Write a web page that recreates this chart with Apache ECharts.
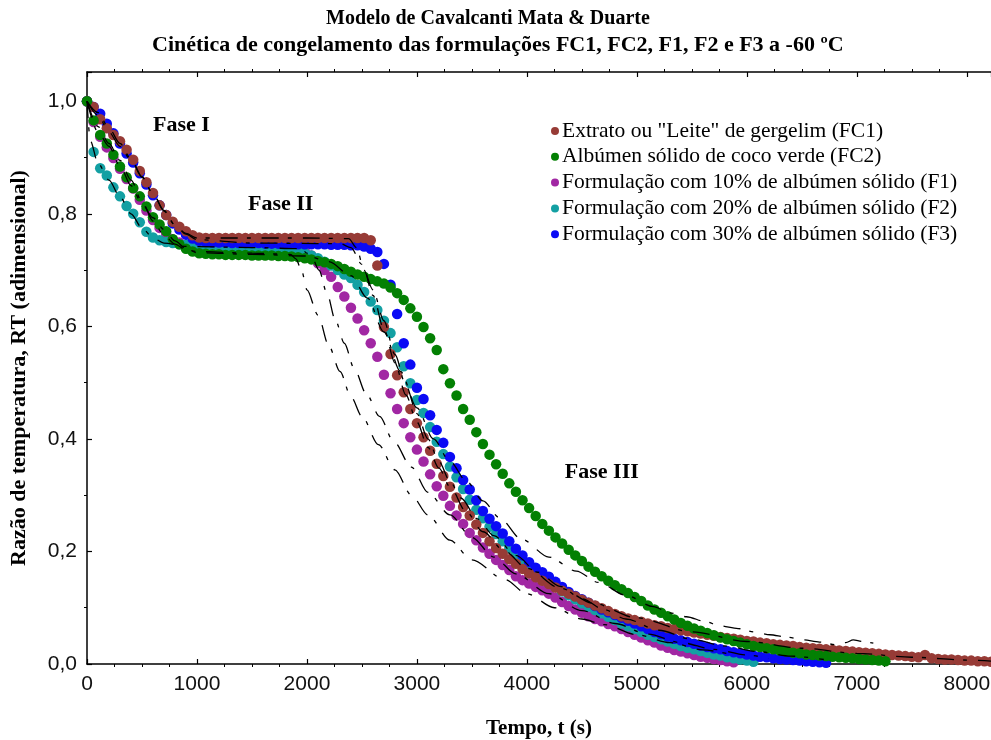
<!DOCTYPE html>
<html>
<head>
<meta charset="utf-8">
<script src="https://cdn.jsdelivr.net/npm/echarts@6/dist/echarts.min.js"></script>
<style>
html, body { margin: 0; padding: 0; background: #ffffff; }
#chart { width: 991px; height: 740px; }
</style>
</head>
<body>
<div id="chart"></div>
<script>
// Measurements are taken every 60 s, starting at t = 0
const STEP = 60;

// Extrato ou "Leite" de gergelim (FC1)
const fc1 = [
  1.000, 0.990, 0.968, 0.952, 0.940, 0.929, 0.914, 0.896, 0.876, 0.856,
  0.837, 0.815, 0.798, 0.786, 0.777, 0.769, 0.762, 0.758, 0.757, 0.757,
  0.757, 0.757, 0.757, 0.757, 0.757, 0.757, 0.757, 0.757, 0.757, 0.757,
  0.757, 0.757, 0.757, 0.757, 0.757, 0.757, 0.757, 0.757, 0.757, 0.757,
  0.757, 0.757, 0.757, 0.753, 0.708, 0.599, 0.551, 0.513, 0.483, 0.453,
  0.428, 0.403, 0.379, 0.356, 0.334, 0.315, 0.296, 0.279, 0.264, 0.248,
  0.233, 0.218, 0.206, 0.196, 0.186, 0.178, 0.169, 0.161, 0.154, 0.148,
  0.142, 0.136, 0.130, 0.125, 0.120, 0.114, 0.109, 0.104, 0.099, 0.094,
  0.089, 0.085, 0.081, 0.078, 0.075, 0.072, 0.069, 0.067, 0.064, 0.062,
  0.060, 0.058, 0.056, 0.054, 0.052, 0.050, 0.048, 0.046, 0.045, 0.043,
  0.041, 0.040, 0.038, 0.037, 0.035, 0.034, 0.033, 0.032, 0.030, 0.029,
  0.028, 0.027, 0.026, 0.025, 0.024, 0.023, 0.022, 0.021, 0.020, 0.019,
  0.018, 0.017, 0.016, 0.015, 0.014, 0.013, 0.012, 0.016, 0.010, 0.009,
  0.008, 0.008, 0.007, 0.006, 0.006, 0.005, 0.005, 0.004
];

// Albúmen sólido de coco verde (FC2)
const fc2 = [
  1.000, 0.966, 0.940, 0.925, 0.905, 0.884, 0.865, 0.846, 0.831, 0.813,
  0.794, 0.781, 0.769, 0.755, 0.746, 0.738, 0.733, 0.730, 0.729, 0.728,
  0.728, 0.727, 0.727, 0.727, 0.727, 0.726, 0.726, 0.726, 0.726, 0.725,
  0.725, 0.724, 0.723, 0.721, 0.719, 0.716, 0.714, 0.711, 0.707, 0.702,
  0.697, 0.692, 0.688, 0.684, 0.680, 0.676, 0.669, 0.659, 0.647, 0.632,
  0.617, 0.599, 0.579, 0.558, 0.524, 0.499, 0.477, 0.453, 0.434, 0.412,
  0.391, 0.372, 0.355, 0.338, 0.321, 0.306, 0.291, 0.277, 0.263, 0.249,
  0.237, 0.225, 0.214, 0.203, 0.193, 0.183, 0.173, 0.164, 0.156, 0.148,
  0.140, 0.133, 0.126, 0.119, 0.112, 0.104, 0.097, 0.091, 0.085, 0.079,
  0.073, 0.068, 0.063, 0.059, 0.055, 0.051, 0.047, 0.044, 0.041, 0.038,
  0.035, 0.032, 0.030, 0.028, 0.026, 0.024, 0.022, 0.020, 0.019, 0.017,
  0.016, 0.015, 0.014, 0.013, 0.012, 0.011, 0.010, 0.009, 0.008, 0.007,
  0.006, 0.005
];

// Formulação com 10% de albúmen sólido (F1)
const f1 = [
  1.000, 0.963, 0.937, 0.918, 0.899, 0.880, 0.862, 0.845, 0.825, 0.806,
  0.789, 0.775, 0.764, 0.755, 0.749, 0.745, 0.743, 0.742, 0.742, 0.742,
  0.741, 0.741, 0.741, 0.741, 0.741, 0.740, 0.740, 0.740, 0.740, 0.739,
  0.739, 0.738, 0.737, 0.733, 0.726, 0.712, 0.700, 0.688, 0.670, 0.653,
  0.633, 0.614, 0.593, 0.570, 0.546, 0.514, 0.481, 0.453, 0.428, 0.403,
  0.381, 0.360, 0.337, 0.316, 0.299, 0.281, 0.264, 0.249, 0.233, 0.220,
  0.207, 0.196, 0.185, 0.176, 0.167, 0.156, 0.149, 0.143, 0.137, 0.131,
  0.125, 0.118, 0.110, 0.103, 0.097, 0.091, 0.085, 0.080, 0.076, 0.071,
  0.067, 0.062, 0.057, 0.052, 0.047, 0.042, 0.038, 0.033, 0.029, 0.025,
  0.022, 0.019, 0.016, 0.013, 0.011, 0.009, 0.007, 0.005, 0.003
];

// Formulação com 20% de albúmen sólido (F2)
const f2 = [
  1.000, 0.910, 0.881, 0.868, 0.847, 0.831, 0.814, 0.800, 0.785, 0.768,
  0.758, 0.753, 0.750, 0.748, 0.746, 0.745, 0.744, 0.743, 0.742, 0.742,
  0.741, 0.741, 0.740, 0.740, 0.739, 0.739, 0.738, 0.738, 0.737, 0.737,
  0.736, 0.735, 0.733, 0.730, 0.726, 0.721, 0.715, 0.708, 0.700, 0.692,
  0.686, 0.674, 0.661, 0.644, 0.629, 0.610, 0.588, 0.563, 0.529, 0.499,
  0.469, 0.446, 0.421, 0.395, 0.373, 0.351, 0.332, 0.311, 0.292, 0.274,
  0.259, 0.244, 0.231, 0.218, 0.206, 0.195, 0.184, 0.173, 0.163, 0.154,
  0.145, 0.137, 0.129, 0.122, 0.115, 0.108, 0.102, 0.096, 0.090, 0.084,
  0.078, 0.072, 0.067, 0.062, 0.057, 0.052, 0.048, 0.044, 0.040, 0.036,
  0.032, 0.029, 0.026, 0.023, 0.020, 0.017, 0.015, 0.012, 0.010, 0.008,
  0.006, 0.004
];

// Formulação com 30% de albúmen sólido (F3)
const f3 = [
  1.000, 0.990, 0.978, 0.960, 0.943, 0.925, 0.907, 0.891, 0.872, 0.852,
  0.833, 0.815, 0.798, 0.783, 0.772, 0.763, 0.756, 0.752, 0.750, 0.749,
  0.749, 0.749, 0.748, 0.748, 0.748, 0.748, 0.748, 0.747, 0.747, 0.747,
  0.747, 0.747, 0.746, 0.746, 0.746, 0.746, 0.746, 0.745, 0.745, 0.745,
  0.744, 0.744, 0.742, 0.738, 0.732, 0.711, 0.674, 0.622, 0.570, 0.532,
  0.491, 0.471, 0.442, 0.416, 0.393, 0.368, 0.348, 0.327, 0.310, 0.291,
  0.272, 0.258, 0.245, 0.232, 0.218, 0.205, 0.193, 0.181, 0.171, 0.163,
  0.155, 0.146, 0.137, 0.128, 0.121, 0.115, 0.109, 0.103, 0.097, 0.092,
  0.087, 0.082, 0.077, 0.072, 0.067, 0.062, 0.057, 0.053, 0.049, 0.045,
  0.042, 0.039, 0.036, 0.033, 0.030, 0.028, 0.026, 0.023, 0.021, 0.019,
  0.017, 0.015, 0.013, 0.012, 0.010, 0.009, 0.008, 0.007, 0.006, 0.005,
  0.004, 0.003, 0.002
];

// Fitted model curves, [t (s), RT]
const modelFC1 = [
  [0, 1.000], [100, 0.975], [200, 0.945], [300, 0.920], [400, 0.895], [500, 0.865],
  [600, 0.835], [700, 0.805], [800, 0.780], [900, 0.765], [1000, 0.757], [1500, 0.757],
  [2000, 0.757], [2380, 0.756], [2450, 0.740], [2520, 0.700], [2600, 0.655], [2700, 0.595],
  [2800, 0.535], [2900, 0.478], [3000, 0.430], [3100, 0.385], [3200, 0.348], [3300, 0.315],
  [3450, 0.270], [3600, 0.235], [3800, 0.200], [4000, 0.170], [4300, 0.135], [4600, 0.108],
  [5000, 0.082], [5500, 0.057], [6000, 0.040], [6500, 0.028], [7000, 0.019], [7500, 0.012],
  [8000, 0.007], [8220, 0.005]
];
const modelFC2 = [
  [0, 1.000], [100, 0.945], [200, 0.920], [300, 0.885], [400, 0.850], [500, 0.818],
  [600, 0.793], [700, 0.772], [800, 0.752], [900, 0.738], [1000, 0.731], [1500, 0.728],
  [2000, 0.725], [2200, 0.715], [2400, 0.690], [2550, 0.650], [2700, 0.590], [2850, 0.520],
  [3000, 0.455], [3150, 0.400], [3300, 0.360], [3450, 0.325], [3600, 0.290], [3750, 0.260],
  [3950, 0.222], [4200, 0.190], [4450, 0.165], [4650, 0.145], [4900, 0.122], [5150, 0.102],
  [5300, 0.091], [5450, 0.084], [5630, 0.075], [5750, 0.068], [5920, 0.063], [6070, 0.057],
  [6210, 0.052], [6360, 0.048], [6510, 0.043], [6660, 0.039], [6815, 0.034], [6900, 0.038],
  [6967, 0.043], [7050, 0.040], [7150, 0.037]
];
const modelF1 = [
  [0, 1.000], [100, 0.955], [200, 0.925], [300, 0.895], [400, 0.860], [500, 0.822],
  [600, 0.787], [700, 0.762], [800, 0.746], [900, 0.736], [1000, 0.733], [1500, 0.730],
  [1850, 0.728], [1900, 0.720], [1950, 0.700], [2000, 0.665], [2100, 0.620], [2200, 0.565],
  [2300, 0.520], [2400, 0.475], [2500, 0.440], [2650, 0.390], [2800, 0.345], [2950, 0.300],
  [3100, 0.265], [3300, 0.220], [3500, 0.185], [3800, 0.150], [4000, 0.125], [4250, 0.100],
  [4500, 0.080], [4700, 0.070], [5000, 0.052], [5300, 0.038], [5600, 0.025], [5900, 0.015]
];
const modelF2 = [
  [0, 1.000], [30, 0.930], [100, 0.890], [200, 0.860], [300, 0.830], [400, 0.800],
  [500, 0.775], [600, 0.757], [700, 0.748], [900, 0.742], [1500, 0.740], [1950, 0.738],
  [2000, 0.730], [2050, 0.720], [2110, 0.700], [2180, 0.660], [2260, 0.610], [2340, 0.570],
  [2430, 0.525], [2540, 0.480], [2660, 0.440], [2790, 0.395], [2950, 0.350], [3100, 0.305],
  [3300, 0.265], [3500, 0.225], [3700, 0.190], [3900, 0.160], [4200, 0.125], [4500, 0.095],
  [4800, 0.072], [5100, 0.053], [5400, 0.038], [5700, 0.026], [6000, 0.016], [6200, 0.010]
];
const modelF3 = [
  [0, 1.000], [100, 0.980], [200, 0.952], [300, 0.925], [400, 0.898], [500, 0.866],
  [600, 0.836], [700, 0.806], [800, 0.780], [900, 0.764], [1000, 0.754], [1500, 0.748],
  [2300, 0.747], [2400, 0.740], [2500, 0.710], [2600, 0.665], [2700, 0.610], [2800, 0.550],
  [2900, 0.495], [3000, 0.445], [3100, 0.400], [3200, 0.360], [3300, 0.325], [3400, 0.295],
  [3550, 0.258], [3700, 0.228], [3900, 0.193], [4100, 0.163], [4300, 0.138], [4500, 0.116],
  [4700, 0.097], [4900, 0.080], [5200, 0.060], [5500, 0.044], [5800, 0.032], [6100, 0.022],
  [6400, 0.014], [6700, 0.008]
];

// Axis ticks
const xTicks = { min: 0, max: 8220, interval: 1000 };
const yTicks = { min: 0, max: 1.052, interval: 0.2 };

// Phase annotations, anchored in data coordinates [t, RT]
const phaseLabels = [
  { text: 'Fase I', at: [600, 0.958] },
  { text: 'Fase II', at: [1464, 0.816] },
  { text: 'Fase III', at: [4345, 0.340] }
];

const seriesInfo = [
  { name: 'Extrato ou "Leite" de gergelim (FC1)', data: fc1, color: '#973b36', z: 5 },
  { name: 'Albúmen sólido de coco verde (FC2)', data: fc2, color: '#038003', z: 6 },
  { name: 'Formulação com 10% de albúmen sólido (F1)', data: f1, color: '#a127a3', z: 2 },
  { name: 'Formulação com 20% de albúmen sólido (F2)', data: f2, color: '#13a0a3', z: 3 },
  { name: 'Formulação com 30% de albúmen sólido (F3)', data: f3, color: '#0a0af5', z: 4 }
];
const models = [modelFC1, modelFC2, modelF1, modelF2, modelF3];

const serif = '"Liberation Serif", "Times New Roman", serif';
const sans = '"Liberation Sans", Arial, sans-serif';

const toPairs = arr => arr.map((v, i) => [i * STEP, v]);

const scatterSeries = seriesInfo.map(s => ({
  name: s.name,
  type: 'scatter',
  data: toPairs(s.data),
  symbol: 'circle',
  symbolSize: 10.5,
  itemStyle: { color: s.color, opacity: 1 },
  z: s.z,
  silent: true,
  animation: false
}));

const modelSeries = models.map((m, i) => ({
  name: 'modelo-' + i,
  type: 'line',
  data: m,
  symbol: 'none',
  smooth: 0.3,
  smoothMonotone: 'x',
  lineStyle: { color: '#000', width: 1.3, type: [17, 9, 4, 11] },
  z: 8,
  silent: true,
  animation: false
}));

const axisCommon = {
  type: 'value',
  axisLine: { show: true, onZero: false, lineStyle: { color: '#000', width: 1.5 } },
  splitLine: { show: false },
  axisTick: { show: true, inside: true, length: 5, lineStyle: { color: '#000', width: 1.2 } },
  // negative length turns the minor ticks towards the plot area
  minorTick: { show: true, splitNumber: 4, length: -3, lineStyle: { color: '#000', width: 1 } }
};

const chart = echarts.init(document.getElementById('chart'), null, { renderer: 'canvas' });

chart.setOption({
  backgroundColor: '#ffffff',
  animation: false,
  title: [
    {
      text: 'Modelo de Cavalcanti Mata & Duarte',
      left: 326, top: 9, padding: 0,
      textStyle: { fontFamily: serif, fontWeight: 'bold', fontSize: 20, color: '#000' }
    },
    {
      text: 'Cinética de congelamento das formulações FC1, FC2, F1, F2 e F3 a -60 ºC',
      left: 152, top: 34, padding: 0,
      textStyle: { fontFamily: serif, fontWeight: 'bold', fontSize: 22, color: '#000' }
    }
  ],
  grid: { left: 87, right: 0, top: 72, bottom: 76, outerBoundsMode: 'none' },
  legend: {
    orient: 'vertical',
    left: 546, top: 115,
    itemWidth: 8, itemHeight: 8, itemGap: 3.8,
    icon: 'circle',
    data: seriesInfo.map(s => s.name),
    textStyle: { fontFamily: serif, fontSize: 21.5, color: '#000', lineHeight: 21, padding: [0, 0, 0, -2] },
    selectedMode: false
  },
  xAxis: [
    Object.assign({}, axisCommon, {
      position: 'bottom',
      min: xTicks.min, max: xTicks.max, interval: xTicks.interval,
      axisLabel: {
        fontFamily: sans, fontSize: 21, color: '#111', margin: 10, showMaxLabel: false,
        formatter: v => String(v)
      },
      name: 'Tempo, t (s)',
      nameLocation: 'middle', nameGap: 54,
      nameTextStyle: { fontFamily: serif, fontWeight: 'bold', fontSize: 21, color: '#000' }
    }),
    Object.assign({}, axisCommon, {
      position: 'top',
      min: xTicks.min, max: xTicks.max, interval: xTicks.interval,
      axisLabel: { show: false }
    })
  ],
  yAxis: [
    Object.assign({}, axisCommon, {
      min: yTicks.min, max: yTicks.max, interval: yTicks.interval,
      minorTick: { show: true, splitNumber: 2, length: -3, lineStyle: { color: '#000', width: 1 } },
      axisLabel: {
        fontFamily: sans, fontSize: 21, color: '#111', margin: 10, showMaxLabel: false,
        formatter: v => v.toFixed(1).replace('.', ',')
      },
      name: 'Razão de temperatura, RT (adimensional)',
      nameLocation: 'middle', nameGap: 57,
      nameTextStyle: { fontFamily: serif, fontWeight: 'bold', fontSize: 22, color: '#000' }
    })
  ],
  series: scatterSeries.concat(modelSeries)
});

// Phase labels placed through the axes' own scales
chart.setOption({
  graphic: phaseLabels.map(p => {
    const px = chart.convertToPixel({ xAxisIndex: 0, yAxisIndex: 0 }, p.at);
    return {
      type: 'text',
      x: px[0], y: px[1],
      style: {
        text: p.text,
        font: 'bold 22px ' + serif,
        fill: '#000',
        verticalAlign: 'middle'
      },
      silent: true
    };
  })
});
</script>
</body>
</html>
